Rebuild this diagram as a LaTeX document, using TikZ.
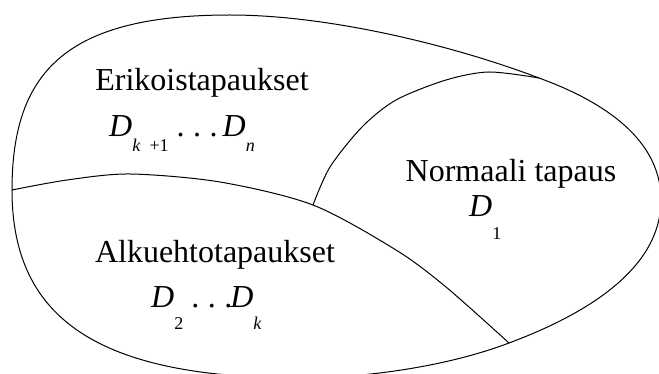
\documentclass[tikz,border=0pt]{standalone}
\usepackage{fontspec}
\setmainfont{Liberation Serif}
\usepackage{tikz}
\newcommand{\isot}{\fontsize{32}{38}\selectfont}
\newcommand{\alaindeksi}[2]{\raisebox{-#1}{\fontsize{18}{18}\selectfont #2}}
\newcommand{\pisteet}{.\hspace{8.5pt}.\hspace{8.5pt}.}

\begin{document}
\begin{tikzpicture}[line cap=round,line join=round,x=1pt,y=-1pt,
		teksti/.style={inner sep=0pt,font=\isot},
		reuna/.style={color=black,line width=1pt}]
		\useasboundingbox (0,0) rectangle (659,374);

		% Liitoskohdat
		\coordinate (vasen) at (12,190);
		\coordinate (risteys) at (313,205);
		\coordinate (yla) at (539,78);
		\coordinate (ala) at (509,343);

		% Ulkoreuna
		\draw[reuna] (vasen) .. controls (12,71) and (67,15) .. (230,15)
			.. controls (330,15) and (455,46) .. (yla)
			.. controls (605,102) and (661,140) .. (661,200)
			.. controls (661,270) and (584,315) .. (ala)
			.. controls (443,368) and (360,378) .. (300,378)
			.. controls (100,378) and (12,320) .. cycle;

		% Erikoistapaukset / Alkuehtotapaukset
		\draw[reuna] plot[smooth] coordinates {(vasen) (67,180) (130,174) (220,182) (risteys)
			(396,250) (446,287) (ala)};

		% Normaali tapaus
		\draw[reuna] plot[smooth] coordinates {(risteys) (330,167) (362,127) (396,100) (446,80)
			(489,72) (yla)};

		\node[teksti,anchor=base] (erik) at (202,91) {Erikoistapaukset};
		\node[teksti,anchor=base west] (erikD) at (109,137)
			{\textit{D}\alaindeksi{15pt}{\textit{k}\hspace{9pt}+1}\hspace{8pt}\pisteet\hspace{5pt}\textit{D}\alaindeksi{15pt}{\textit{n}}};
		\node[teksti,anchor=base] (alku) at (215,262) {Alkuehtotapaukset};
		\node[teksti,anchor=base west] (alkuD) at (151,308)
			{\textit{D}\alaindeksi{22pt}{2}\hspace{8pt}\pisteet\hspace{-2pt}\textit{D}\alaindeksi{22pt}{\textit{k}}};
		\node[teksti,anchor=base] (norm) at (511,182) {Normaali tapaus};
		\node[teksti,anchor=base west] (normD) at (469,217) {\textit{D}\alaindeksi{23pt}{1}};
	\end{tikzpicture}
\end{document}
